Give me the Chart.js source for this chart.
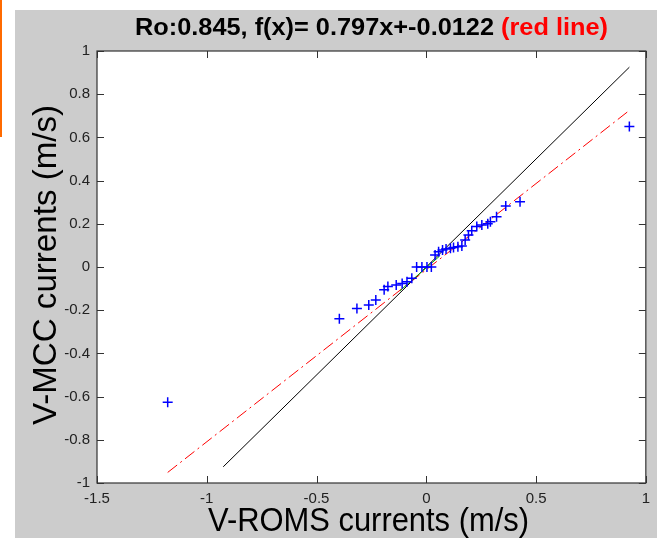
<!DOCTYPE html>
<html>
<head>
<meta charset="utf-8">
<script src="https://cdn.jsdelivr.net/npm/chart.js@4"></script>
<style>
  html, body { margin: 0; padding: 0; background: #fff; }
  #wrap { width: 657px; height: 538px; }
</style>
</head>
<body>
<div id="wrap"><canvas id="chart" width="657" height="538"></canvas></div>
<script>
// V-ROMS (x) vs V-MCC (y)
const romsValues = [-1.178, -0.396, -0.316, -0.262, -0.230, -0.192, -0.175, -0.137, -0.110, -0.088,
  -0.066, -0.044, -0.020, 0.003, 0.023, 0.040, 0.056, 0.074, 0.090, 0.110,
  0.124, 0.144, 0.162, 0.177, 0.192, 0.207, 0.230, 0.253, 0.280, 0.292,
  0.320, 0.362, 0.427, 0.925];
const mccValues = [-0.626, -0.240, -0.192, -0.176, -0.153, -0.105, -0.090, -0.083, -0.076, -0.068,
  -0.052, 0.000, 0.000, 0.000, 0.000, 0.056, 0.071, 0.079, 0.083, 0.087,
  0.090, 0.094, 0.097, 0.125, 0.148, 0.168, 0.187, 0.194, 0.200, 0.210,
  0.233, 0.282, 0.302, 0.650];

// fit and reference lines (end points)
const fitSlope = 0.797;
const fitOffset = -0.0122;
const fitRange = [-1.178, 0.925];
const oneToOneRange = [-0.925, 0.925];
const greenX = [-0.12, 0.06];
const greenY = [-0.11, 0.05];

const xTicks = [-1.5, -1, -0.5, 0, 0.5, 1];
const xTickLabels = ["-1.5", "-1", "-0.5", "0", "0.5", "1"];
const yTicks = [-1, -0.8, -0.6, -0.4, -0.2, 0, 0.2, 0.4, 0.6, 0.8, 1];
const yTickLabels = ["-1", "-0.8", "-0.6", "-0.4", "-0.2", "0", "0.2", "0.4", "0.6", "0.8", "1"];

const titleBlack = "Ro:0.845, f(x)= 0.797x+-0.0122 ";
const titleRed = "(red line)";
const xTitle = "V-ROMS currents (m/s)";
const yTitle = "V-MCC currents (m/s)";

const FONT = "'Liberation Sans', Arial, Helvetica, sans-serif";

const points = romsValues.map((x, i) => ({ x: x, y: mccValues[i] }));
const fitLine = fitRange.map(x => ({ x: x, y: fitSlope * x + fitOffset }));
const oneToOne = oneToOneRange.map(x => ({ x: x, y: x }));
const greenLine = greenX.map((x, i) => ({ x: x, y: greenY[i] }));

// gray figure background, white axes box, matlab style inward ticks, texts
const matlabFrame = {
  id: "matlabFrame",
  beforeDraw(chart) {
    const ctx = chart.ctx;
    const a = chart.chartArea;
    ctx.save();
    ctx.fillStyle = "#fff";
    ctx.fillRect(0, 0, chart.width, chart.height);
    ctx.fillStyle = "#cccccc";
    ctx.fillRect(15, 10, chart.width - 15, chart.height - 10);
    ctx.fillStyle = "#ff6a00";
    ctx.fillRect(0, 0, 2, 137);
    ctx.fillStyle = "#fff";
    ctx.fillRect(a.left, a.top, a.right - a.left, a.bottom - a.top);
    ctx.restore();
  },
  afterDraw(chart) {
    const ctx = chart.ctx;
    const a = chart.chartArea;
    const xs = chart.scales.x, ys = chart.scales.y;
    const len = 7;
    ctx.save();
    ctx.strokeStyle = "#333";
    ctx.lineWidth = 1;
    ctx.beginPath();
    xTicks.forEach(v => {
      const p = Math.round(xs.getPixelForValue(v)) + 0.5;
      ctx.moveTo(p, a.bottom); ctx.lineTo(p, a.bottom - len);
      ctx.moveTo(p, a.top); ctx.lineTo(p, a.top + len);
    });
    yTicks.forEach(v => {
      const p = Math.round(ys.getPixelForValue(v)) + 0.5;
      ctx.moveTo(a.left, p); ctx.lineTo(a.left + len, p);
      ctx.moveTo(a.right, p); ctx.lineTo(a.right - len, p);
    });
    ctx.stroke();
    ctx.lineWidth = 1.2;
    ctx.strokeRect(a.left, a.top, a.right - a.left, a.bottom - a.top);

    // title, two colours
    ctx.font = "bold 23px " + FONT;
    const w1 = ctx.measureText(titleBlack).width;
    const w2 = ctx.measureText(titleRed).width;
    const sx = 473 / (w1 + w2);
    ctx.translate(135, 35);
    ctx.scale(sx, 1);
    ctx.textBaseline = "alphabetic";
    ctx.textAlign = "left";
    ctx.fillStyle = "#000";
    ctx.fillText(titleBlack, 0, 0);
    ctx.fillStyle = "#ff0000";
    ctx.fillText(titleRed, w1, 0);
    ctx.restore();

    // axis titles
    ctx.save();
    ctx.font = "34px " + FONT;
    ctx.fillStyle = "#000";
    ctx.textAlign = "center";
    let w = ctx.measureText(xTitle).width;
    ctx.translate(368.5, 531);
    ctx.scale(321 / w, 1);
    ctx.fillText(xTitle, 0, 0);
    ctx.restore();

    ctx.save();
    ctx.font = "34px " + FONT;
    ctx.fillStyle = "#000";
    ctx.textAlign = "center";
    w = ctx.measureText(yTitle).width;
    ctx.translate(56, 265);
    ctx.rotate(-Math.PI / 2);
    ctx.scale(320 / w, 1);
    ctx.fillText(yTitle, 0, 0);
    ctx.restore();
  }
};

new Chart(document.getElementById("chart"), {
  type: "scatter",
  data: {
    datasets: [
      {
        label: "data",
        data: points,
        pointStyle: "cross",
        pointRadius: 5,
        pointBorderWidth: 1.5,
        borderColor: "#0000ff",
        backgroundColor: "#0000ff",
        showLine: false,
        order: 0,
      },
      {
        label: "1:1",
        type: "line",
        data: oneToOne,
        borderColor: "#000",
        borderWidth: 1,
        pointRadius: 0,
        order: 3,
      },
      {
        label: "fit",
        type: "line",
        data: fitLine,
        borderColor: "#ff0000",
        borderWidth: 1,
        borderDash: [12, 4, 2, 4],
        pointRadius: 0,
        order: 2,
      },
      {
        label: "green",
        type: "line",
        data: greenLine,
        borderColor: "#00a000",
        borderWidth: 1,
        pointRadius: 0,
        order: 1,
      },
    ],
  },
  options: {
    responsive: false,
    animation: false,
    devicePixelRatio: 1,
    layout: { padding: { left: 0, right: 9, top: 51, bottom: 0 } },
    plugins: {
      legend: { display: false },
      tooltip: { enabled: false },
      title: { display: false },
    },
    scales: {
      x: {
        type: "linear",
        min: -1.5,
        max: 1,
        afterBuildTicks: (scale) => { scale.ticks = xTicks.map(v => ({ value: v })); },
        afterFit: (scale) => { scale.height = 55; },
        grid: { display: false, drawTicks: false },
        border: { display: false },
        ticks: {
          padding: 7,
          color: "#222",
          font: { family: FONT, size: 15 },
          maxRotation: 0,
          autoSkip: false,
          callback: (v) => xTickLabels[xTicks.indexOf(v)],
        },
      },
      y: {
        type: "linear",
        min: -1,
        max: 1,
        afterBuildTicks: (scale) => { scale.ticks = yTicks.map(v => ({ value: v })); },
        afterFit: (scale) => { scale.width = 97; },
        grid: { display: false, drawTicks: false },
        border: { display: false },
        ticks: {
          padding: 7,
          color: "#222",
          font: { family: FONT, size: 15 },
          autoSkip: false,
          callback: (v) => yTickLabels[yTicks.indexOf(v)],
        },
      },
    },
  },
  plugins: [matlabFrame],
});
</script>
</body>
</html>
